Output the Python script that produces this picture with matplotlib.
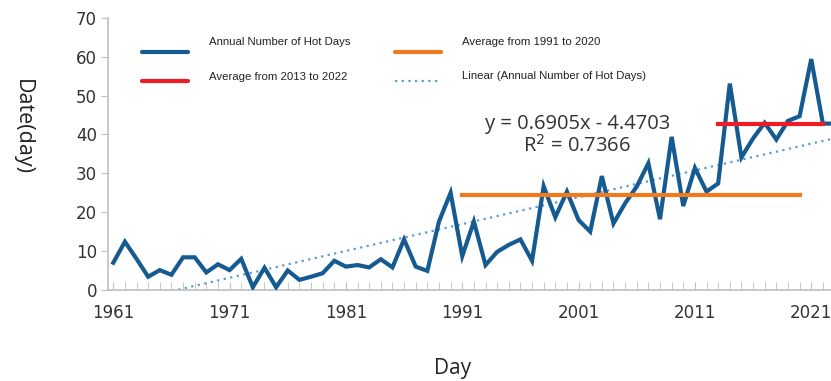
import numpy as np
import matplotlib
matplotlib.use("Agg")
import matplotlib.pyplot as plt
from matplotlib.ticker import MultipleLocator, FixedLocator

plt.rcParams['font.family'] = ['Open Sans', 'DejaVu Sans']

# annual number of hot days
years = np.arange(1961, 2024)
hot_days = [
    7.0, 12.4, 8.0, 3.4, 5.1, 3.9, 8.4, 8.4, 4.5, 6.6,
    5.1, 8.0, 0.7, 5.7, 0.7, 5.0, 2.6, 3.4, 4.3, 7.5,
    6.0, 6.4, 5.8, 7.9, 5.8, 13.0, 6.0, 4.9, 17.6, 25.0,
    8.7, 17.6, 6.4, 9.8, 11.6, 13.0, 7.5, 26.7, 18.7, 25.3,
    18.0, 15.0, 29.3, 17.1, 22.3, 26.6, 32.6, 18.2, 39.4, 21.6,
    31.4, 25.3, 27.4, 53.1, 34.1, 39.0, 43.0, 38.7, 43.5, 44.7,
    59.4, 42.8, 42.8,
]
avg_1991_2020 = 24.5
avg_2013_2022 = 42.6
slope = 0.6905
intercept = -4.4703
xtick_years = [1961, 1971, 1981, 1991, 2001, 2011, 2021]

c_hot = '#165a92'
c_red = '#ee1c25'
c_orange = '#f07a1c'
c_trend = '#5b9bd5'

fig = plt.figure(figsize=(8.31, 3.81), dpi=100)
ax = fig.add_axes([0.130, 0.239, 0.870, 0.714])

ax.plot(years, hot_days, color=c_hot, lw=3.0, solid_joinstyle='miter', zorder=3)
ax.plot([2013, 2022], [avg_2013_2022] * 2, color=c_red, lw=3.0, zorder=4)
ax.plot([1991, 2020], [avg_1991_2020] * 2, color=c_orange, lw=3.0, zorder=4)
idx = np.array([1, 62.7])
ax.plot(1960 + idx, slope * idx + intercept, color=c_trend, lw=1.6,
        ls=(0, (1, 2)), zorder=2)

ax.set_xlim(1960.55, 2022.7)
ax.set_ylim(0, 70)
ax.yaxis.set_major_locator(MultipleLocator(10))
ax.xaxis.set_major_locator(FixedLocator(xtick_years))
ax.xaxis.set_minor_locator(MultipleLocator(1))

for side in ['top', 'right']:
    ax.spines[side].set_visible(False)
for side in ['left', 'bottom']:
    ax.spines[side].set_color('#bfbfbf')
    ax.spines[side].set_linewidth(1.2)

ax.tick_params(axis='x', which='both', direction='in', length=6, color='#bfbfbf',
               labelsize=12, labelcolor='#333333', pad=10)
ax.tick_params(axis='y', which='major', direction='out', length=5, color='#bfbfbf',
               labelsize=12, labelcolor='#333333', pad=3)
for lab in ax.get_xticklabels() + ax.get_yticklabels():
    lab.set_family('DejaVu Sans')

ax.set_xlabel('Day', fontsize=15, color='#222222', va='center')
ax.xaxis.set_label_coords(0.476, -0.287)
ax.set_ylabel('Date(day)', fontsize=15.5, color='#222222', rotation=-90, va='center')
ax.yaxis.set_label_coords(-0.118, 0.60)

ax.text(2000.9, 42.8, 'y = 0.6905x - 4.4703', fontsize=14.5, color='#333333',
        ha='center', va='center')
ax.text(2000.9, 37.1, 'R$^2$ = 0.7366', fontsize=14.5, color='#333333',
        ha='center', va='center')

# legend drawn by hand so the labels sit a little above their keys
legend_items = [
    ('Annual Number of Hot Days', c_hot, '-', 0.047, 0.875, 0.912),
    ('Average from 2013 to 2022', c_red, '-', 0.047, 0.768, 0.781),
    ('Average from 1991 to 2020', c_orange, '-', 0.397, 0.875, 0.912),
    ('Linear (Annual Number of Hot Days)', c_trend, ':', 0.397, 0.768, 0.785),
]
for label, color, style, x0, yk, yt in legend_items:
    if style == ':':
        ax.plot([x0, x0 + 0.064], [yk, yk], transform=ax.transAxes, color=color,
                lw=1.6, ls=(0, (1, 2)), clip_on=False)
    else:
        ax.plot([x0, x0 + 0.064], [yk, yk], transform=ax.transAxes, color=color,
                lw=3.0, solid_capstyle='round', clip_on=False)
    ax.text(x0 + 0.093, yt, label, transform=ax.transAxes, fontsize=8.2,
            family='Liberation Sans', color='#222222', va='center')

plt.savefig('out.png', dpi=100)
